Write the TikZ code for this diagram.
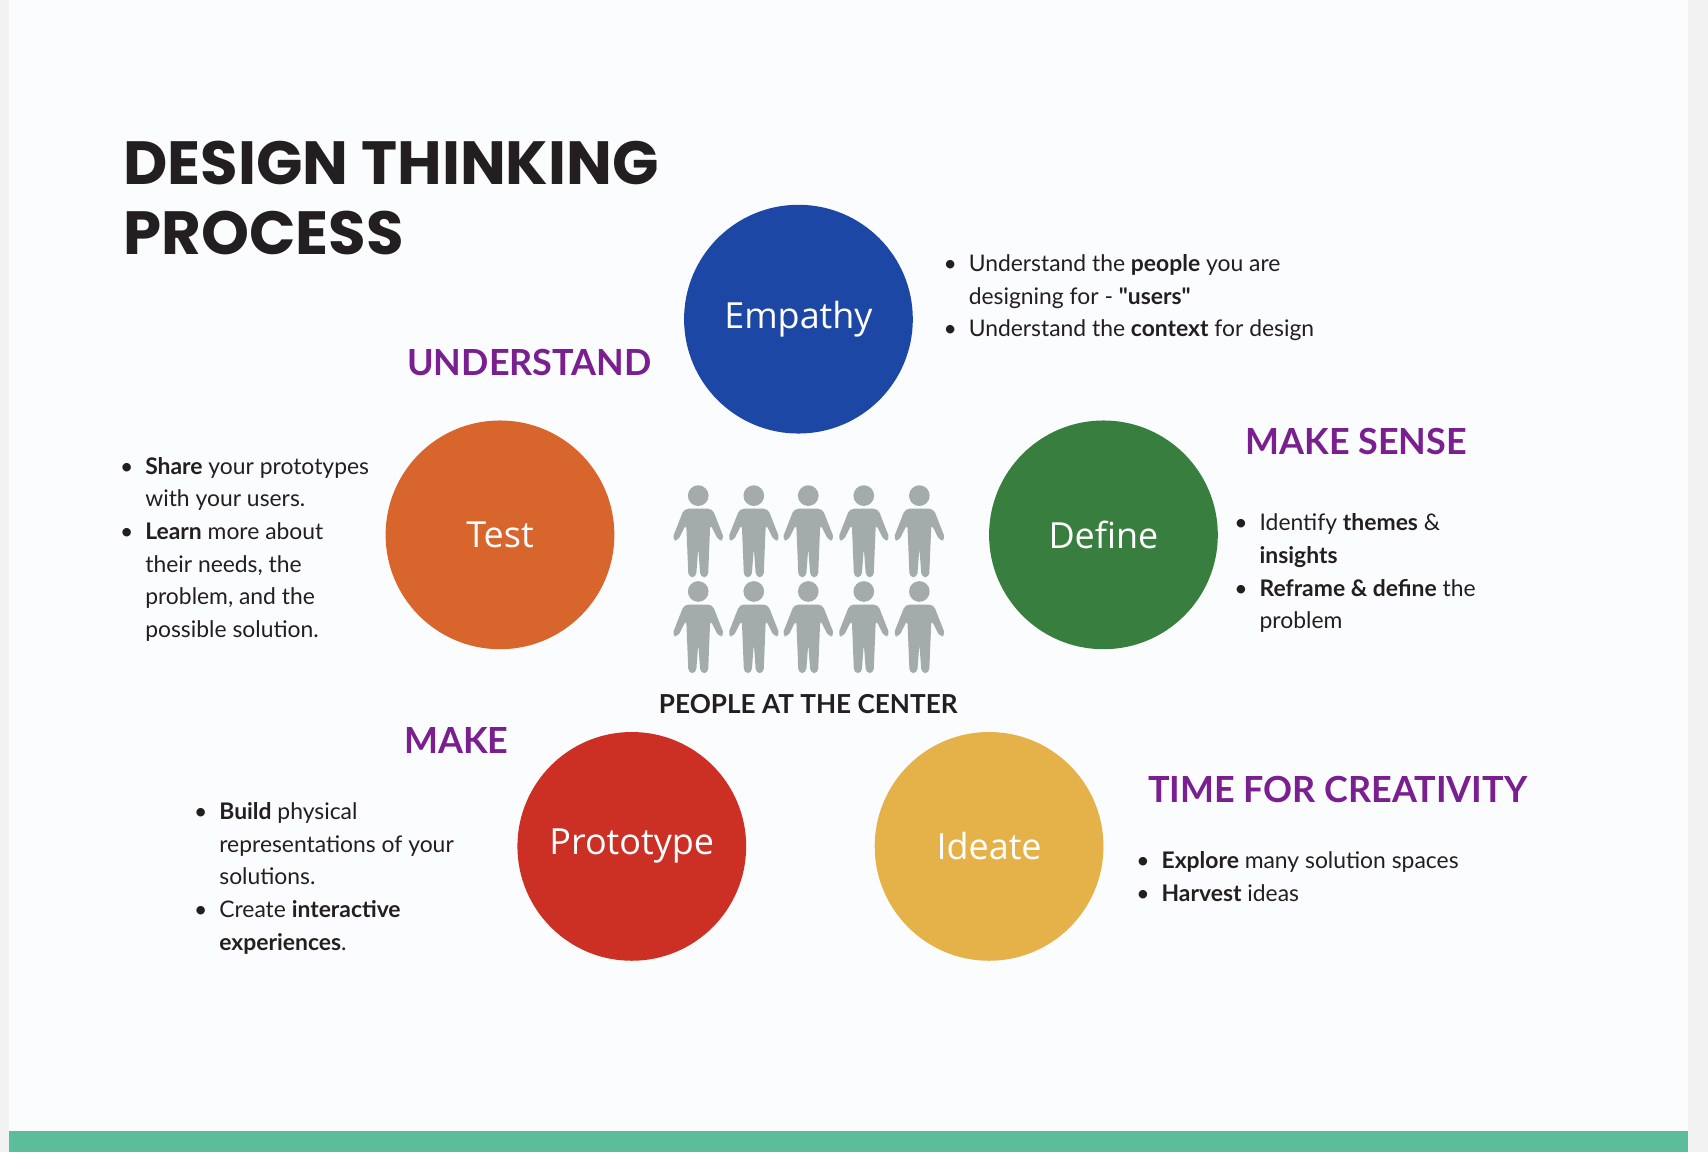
\documentclass[tikz,border=0pt]{standalone}
\usepackage{fontspec}
\setmainfont{Lato}
\newfontfamily\titlefont{Poppins}
\newfontfamily\circfont{Open Sans}
\usepackage{array}
\definecolor{bgc}{HTML}{FBFCFD}
\definecolor{side}{HTML}{F2F2F2}
\definecolor{greenbar}{HTML}{5BBD9A}
\definecolor{cblue}{HTML}{1C47A5}
\definecolor{corange}{HTML}{D8652C}
\definecolor{cgreen}{HTML}{387F3F}
\definecolor{cred}{HTML}{CC3024}
\definecolor{cyellow}{HTML}{E5B24A}
\definecolor{purp}{HTML}{7A1F8F}
\definecolor{ink}{HTML}{231F20}
\definecolor{pgray}{HTML}{A4ACAB}
\tikzset{
 phase/.style={circle,minimum size=210pt,inner sep=0pt,text=white,font=\circfont\fontsize{33}{36}\selectfont},
 head/.style={text=purp,font=\bfseries\fontsize{33}{36}\selectfont,inner sep=0pt},
 body/.style={text=ink,font=\fontsize{21}{30}\selectfont,inner sep=0pt,anchor=north west,align=left},
}
\newcommand{\bl}[1]{\begin{tabular}{@{}l@{\hspace{11pt}}l@{}}#1\end{tabular}}
\newcommand{\sq}{{\addfontfeature{Ligatures=TeXOff}"}}
\newcommand{\person}[2]{%
 \fill[pgray] (#1,#2+10) circle (9.5);
 \fill[pgray,rounded corners=4] (#1-13,#2+22) -- (#1+13,#2+22) -- (#1+24,#2+50) -- (#1+19,#2+52) -- (#1+11,#2+36) -- (#1+9,#2+85) -- (#1+2,#2+85) -- (#1,#2+58) -- (#1-2,#2+85) -- (#1-9,#2+85) -- (#1-11,#2+36) -- (#1-19,#2+52) -- (#1-24,#2+50) -- cycle;}
\begin{document}
\begin{tikzpicture}[x=1pt,y=-1pt]
\useasboundingbox (0,0) rectangle (1568,1058);
\fill[side] (0,0) rectangle (1568,1058);
\fill[bgc] (8,0) rectangle (1550,1058);
\fill[greenbar] (8,1038) rectangle (1550,1058);
\node[anchor=west,text=ink,font=\titlefont\bfseries\fontsize{56}{60}\selectfont,inner sep=0pt] (t1) at (113,150) {DESIGN THINKING};
\node[anchor=west,text=ink,font=\titlefont\bfseries\fontsize{56}{60}\selectfont,inner sep=0pt] (t2) at (113,214) {PROCESS};
\node[phase,fill=cblue] (emp) at (733,293) {Empathy};
\node[phase,fill=corange] (test) at (459,491) {Test};
\node[phase,fill=cgreen] (def) at (1013,491) {Define};
\node[phase,fill=cred] (pro) at (580,777) {Prototype};
\node[phase,fill=cyellow] (ide) at (908,777) {Ideate};
\node[head] (h1) at (486,333) {UNDERSTAND};
\node[head] (h2) at (1245,405) {MAKE SENSE};
\node[head] (h3) at (419,680) {MAKE};
\node[head] (h4) at (1228,725) {TIME FOR CREATIVITY};
\node[body] (b1) at (866,228) {\bl{\textbullet & Understand the \textbf{people} you are\\ & designing for - \textbf{\sq users\sq}\\ \textbullet & Understand the \textbf{context} for design}};
\node[body] (b2) at (110,414) {\bl{\textbullet & \textbf{Share} your prototypes\\ & with your users.\\ \textbullet & \textbf{Learn} more about\\ & their needs, the\\ & problem, and the\\ & possible solution.}};
\node[body] (b3) at (1133,466) {\bl{\textbullet & Identify \textbf{themes} \&\\ & \textbf{insights}\\ \textbullet & \textbf{Reframe \& define} the\\ & problem}};
\node[body] (b4) at (178,731) {\bl{\textbullet & \textbf{Build} physical\\ & representations of your\\ & solutions.\\ \textbullet & Create \textbf{interactive}\\ & \textbf{experiences}.}};
\node[body] (b5) at (1043,776) {\bl{\textbullet & \textbf{Explore} many solution spaces\\ \textbullet & \textbf{Harvest} ideas}};
\foreach \x in {641,692,742,793,844}{\person{\x}{445}\person{\x}{533}}
\node[text=ink,font=\bfseries\fontsize{24}{28}\selectfont,inner sep=0pt] (pc) at (742,646) {PEOPLE AT THE CENTER};
\end{tikzpicture}
\end{document}
